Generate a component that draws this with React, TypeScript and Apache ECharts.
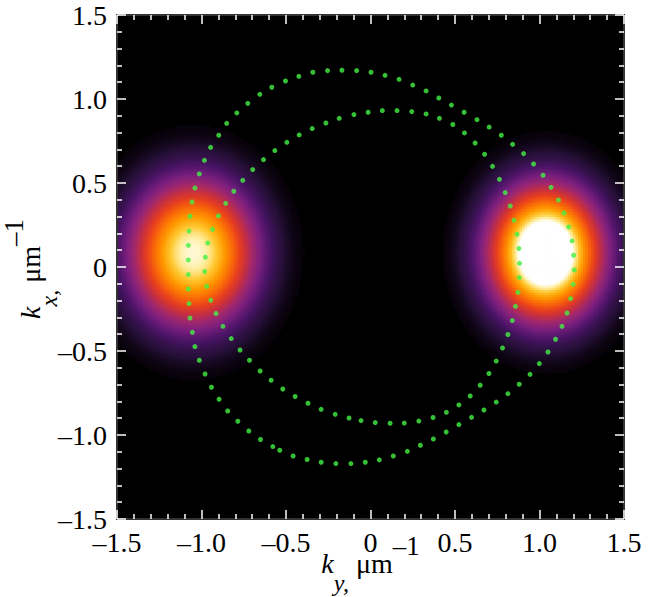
import React, { useEffect, useRef } from "react";
import * as echarts from "echarts";

// ---- axis ticks ----
const xTicks = [-1.5, -1.0, -0.5, 0, 0.5, 1.0, 1.5];
const xTickLabels = ["–1.5", "–1.0", "–0.5", "0", "0.5", "1.0", "1.5"];
const yTicks = [-1.5, -1.0, -0.5, 0, 0.5, 1.0, 1.5];
const yTickLabels = ["–1.5", "–1.0", "–0.5", "0", "0.5", "1.0", "1.5"];

// ---- intensity blobs: left, right ----
const blobKy = [-1.045, 1.039];
const blobKx = [0.085, 0.085];
const blobSigmaKy = [0.265, 0.245];
const blobSigmaKx = [0.31, 0.29];
const blobPower = [2.4, 2.4];
const blobPeak = [0.86, 1.05];

// ---- colour scale ----
const cmapStops = [0, 0.02, 0.06, 0.14, 0.23, 0.32, 0.41, 0.5, 0.6, 0.7, 0.78, 0.84, 0.88];
const cmapColors = ["#000000", "#0c0410", "#261038", "#4a1466", "#7a1f7e", "#a0286e", "#c8303e", "#e8401e", "#fa6a08", "#ff9a00", "#ffc830", "#fff0a8", "#ffffff"];

// ---- dotted contours [ky, kx] ----
const outerContour = [
  [-1.078, 0.042], [-1.078, 0.129], [-1.074, 0.214], [-1.068, 0.302], [-1.056, 0.387], [-1.039, 0.47],
  [-1.013, 0.554], [-0.983, 0.635], [-0.946, 0.712], [-0.898, 0.784], [-0.851, 0.855], [-0.791, 0.917],
  [-0.726, 0.974], [-0.655, 1.028], [-0.584, 1.07], [-0.503, 1.107], [-0.424, 1.135], [-0.341, 1.159],
  [-0.254, 1.169], [-0.169, 1.171], [-0.082, 1.169], [0.003, 1.159], [0.086, 1.141], [0.169, 1.117],
  [0.25, 1.083], [0.329, 1.048], [0.404, 1.006], [0.479, 0.964], [0.554, 0.921], [0.63, 0.877],
  [0.702, 0.833], [0.774, 0.784], [0.841, 0.73], [0.906, 0.675], [0.965, 0.613], [1.021, 0.546],
  [1.068, 0.474], [1.112, 0.399], [1.145, 0.321], [1.173, 0.238], [1.193, 0.155], [1.202, 0.07],
  [1.206, -0.018], [1.199, -0.103], [1.184, -0.188], [1.163, -0.274], [1.133, -0.353], [1.095, -0.43],
  [1.05, -0.506], [0.999, -0.575], [0.944, -0.639], [0.88, -0.698], [0.813, -0.754], [0.744, -0.804],
  [0.671, -0.851], [0.598, -0.895], [0.523, -0.938], [0.448, -0.982], [0.372, -1.024], [0.295, -1.061],
  [0.218, -1.097], [0.135, -1.125], [0.052, -1.148], [-0.031, -1.162], [-0.116, -1.17], [-0.205, -1.17],
  [-0.292, -1.162], [-0.375, -1.146], [-0.458, -1.125], [-0.537, -1.091], [-0.578, -1.069], [-0.651, -1.027],
  [-0.72, -0.976], [-0.785, -0.918], [-0.845, -0.857], [-0.896, -0.787], [-0.941, -0.716], [-0.979, -0.637],
  [-1.013, -0.555], [-1.039, -0.474], [-1.054, -0.389], [-1.068, -0.304], [-1.074, -0.218], [-1.078, -0.131],
  [-1.078, -0.045],
];
const innerContour = [
  [-0.981, -0.027], [-0.977, 0.058], [-0.963, 0.143], [-0.935, 0.224], [-0.9, 0.304], [-0.857, 0.379],
  [-0.809, 0.451], [-0.756, 0.516], [-0.697, 0.58], [-0.633, 0.639], [-0.566, 0.693], [-0.495, 0.742],
  [-0.422, 0.786], [-0.345, 0.824], [-0.264, 0.857], [-0.185, 0.885], [-0.098, 0.907], [-0.014, 0.921],
  [0.07, 0.931], [0.157, 0.931], [0.244, 0.925], [0.329, 0.911], [0.408, 0.885], [0.487, 0.848],
  [0.556, 0.798], [0.619, 0.738], [0.675, 0.671], [0.722, 0.599], [0.763, 0.522], [0.797, 0.443],
  [0.827, 0.363], [0.849, 0.278], [0.867, 0.195], [0.878, 0.11], [0.882, 0.022], [0.88, -0.063],
  [0.873, -0.151], [0.858, -0.234], [0.839, -0.319], [0.813, -0.402], [0.781, -0.482], [0.744, -0.56],
  [0.701, -0.634], [0.649, -0.704], [0.59, -0.768], [0.523, -0.821], [0.449, -0.865], [0.37, -0.896],
  [0.286, -0.917], [0.2, -0.929], [0.116, -0.93], [0.028, -0.926], [-0.056, -0.914], [-0.127, -0.899],
  [-0.209, -0.877], [-0.292, -0.847], [-0.37, -0.811], [-0.446, -0.771], [-0.519, -0.726], [-0.588, -0.674],
  [-0.653, -0.619], [-0.716, -0.555], [-0.772, -0.494], [-0.824, -0.426], [-0.873, -0.353], [-0.914, -0.277],
  [-0.945, -0.198], [-0.969, -0.115],
];

const CELL = 0.015;
const RANGE_MIN = -1.5;
const RANGE_MAX = 1.5;

function hexToRgb(h: string): number[] {
  return [parseInt(h.slice(1, 3), 16), parseInt(h.slice(3, 5), 16), parseInt(h.slice(5, 7), 16)];
}
const cmapRgb = cmapColors.map(hexToRgb);

function colorAt(v: number): string {
  const last = cmapStops.length - 1;
  const t = Math.max(0, v);
  if (t >= cmapStops[last]) {
    const c = cmapRgb[last];
    return `rgb(${c[0]},${c[1]},${c[2]})`;
  }
  let k = 0;
  for (let i = 0; i < last; i++) {
    if (t <= cmapStops[i + 1]) { k = i; break; }
  }
  const f = (t - cmapStops[k]) / (cmapStops[k + 1] - cmapStops[k]);
  const a = cmapRgb[k], b = cmapRgb[k + 1];
  return `rgb(${Math.round(a[0] + (b[0] - a[0]) * f)},${Math.round(a[1] + (b[1] - a[1]) * f)},${Math.round(a[2] + (b[2] - a[2]) * f)})`;
}

function buildHeat(): number[][] {
  const out: number[][] = [];
  const n = Math.round((RANGE_MAX - RANGE_MIN) / CELL);
  for (let i = 0; i < n; i++) {
    const ky = RANGE_MIN + (i + 0.5) * CELL;
    for (let j = 0; j < n; j++) {
      const kx = RANGE_MIN + (j + 0.5) * CELL;
      let v = 0;
      for (let b = 0; b < blobKy.length; b++) {
        const dy = (ky - blobKy[b]) / blobSigmaKy[b];
        const dx = (kx - blobKx[b]) / blobSigmaKx[b];
        const r = Math.sqrt(dy * dy + dx * dx);
        v += blobPeak[b] * Math.exp(-0.5 * Math.pow(r, blobPower[b]));
      }
      if (v > 0.012) out.push([ky, kx, v]);
    }
  }
  return out;
}

const FONT = "Liberation Serif";
const FS = 28;

function tickFmt(ticks: number[], labels: string[]) {
  return (v: number) => {
    const i = ticks.findIndex((t) => Math.abs(t - v) < 1e-6);
    return i >= 0 ? labels[i] : "";
  };
}

const xTitleRich = {
  k: { fontFamily: FONT, fontSize: FS, fontStyle: "italic", lineHeight: 62, color: "#000" },
  sub: { fontFamily: FONT, fontSize: 24, fontStyle: "italic", lineHeight: 24, verticalAlign: "bottom", color: "#000" },
  n: { fontFamily: FONT, fontSize: FS, lineHeight: 62, color: "#000" },
  sup: { fontFamily: FONT, fontSize: 27, lineHeight: 30, verticalAlign: "top", color: "#000" },
};
const yTitleRich = {
  k: { fontFamily: FONT, fontSize: FS, fontStyle: "italic", lineHeight: 60, color: "#000" },
  sub: { fontFamily: FONT, fontSize: 24, fontStyle: "italic", lineHeight: 32, verticalAlign: "bottom", color: "#000" },
  n: { fontFamily: FONT, fontSize: FS, lineHeight: 60, color: "#000" },
  sup: { fontFamily: FONT, fontSize: 27, lineHeight: 58, verticalAlign: "top", color: "#000", padding: [0, 4, 0, 0] },
};

function axisCommon(ticks: number[]) {
  return {
    type: "value",
    min: ticks[0],
    max: ticks[ticks.length - 1],
    interval: 0.5,
    z: 10,
    axisLine: { show: true, onZero: false, lineStyle: { color: "#333", width: 2 } },
    axisTick: { show: true, inside: true, length: 9, lineStyle: { color: "#ffffff", width: 1.5 } },
    minorTick: { show: true, splitNumber: 5, length: 5, lineStyle: { color: "#ffffff", width: 1.5 } },
    splitLine: { show: false },
    minorSplitLine: { show: false },
  };
}

export default function App() {
  const ref = useRef<HTMLDivElement>(null);
  useEffect(() => {
    if (!ref.current) return;
    const chart = echarts.init(ref.current, null, { renderer: "svg", width: 653, height: 597 });
    const heat = buildHeat();
    const option: any = {
      animation: false,
      backgroundColor: "#ffffff",
      grid: { left: 117, top: 15, width: 507, height: 504, show: true, backgroundColor: "#000000", borderWidth: 0, containLabel: false, outerBoundsMode: "none" },
      xAxis: [
        {
          ...axisCommon(xTicks),
          position: "bottom",
          axisLabel: { show: true, margin: 9, fontFamily: FONT, fontSize: FS, color: "#000", formatter: tickFmt(xTicks, xTickLabels) },
          name: "{k|k}{sub|y,}{n| μm}{sup|–1}",
          nameLocation: "middle",
          nameGap: 13.5,
          nameMoveOverlap: false,
          nameTextStyle: { fontFamily: FONT, fontSize: FS, color: "#000", rich: xTitleRich },
        },
        { ...axisCommon(xTicks), position: "top", axisLabel: { show: false } },
      ],
      yAxis: [
        {
          ...axisCommon(yTicks),
          position: "left",
          axisLabel: { show: true, margin: 10, fontFamily: FONT, fontSize: FS, color: "#000", formatter: tickFmt(yTicks, yTickLabels) },
          name: "{k|k}{sub|x,}{n| μm}{sup|–1}",
          nameLocation: "middle",
          nameGap: 56.5,
          nameMoveOverlap: false,
          nameTextStyle: { fontFamily: FONT, fontSize: FS, color: "#000", rich: yTitleRich },
        },
        { ...axisCommon(yTicks), position: "right", axisLabel: { show: false } },
      ],
      series: [
        {
          type: "custom",
          xAxisIndex: 0,
          yAxisIndex: 0,
          clip: true,
          silent: true,
          progressive: 0,
          encode: { x: 0, y: 1 },
          data: heat,
          renderItem: (params: any, api: any) => {
            const c = api.coord([api.value(0), api.value(1)]);
            const s = api.size([CELL, CELL]);
            return {
              type: "rect",
              shape: { x: c[0] - s[0] / 2 - 0.4, y: c[1] - s[1] / 2 - 0.4, width: s[0] + 0.8, height: s[1] + 0.8 },
              style: { fill: colorAt(api.value(2)) },
            };
          },
        },
        {
          type: "scatter",
          xAxisIndex: 0,
          yAxisIndex: 0,
          data: outerContour,
          symbol: "circle",
          symbolSize: 5,
          silent: true,
          itemStyle: { color: "#44f044" },
          z: 3,
        },
        {
          type: "scatter",
          xAxisIndex: 0,
          yAxisIndex: 0,
          data: innerContour,
          symbol: "circle",
          symbolSize: 5,
          silent: true,
          itemStyle: { color: "#44f044" },
          z: 3,
        },
      ],
    };
    chart.setOption(option);
    return () => chart.dispose();
  }, []);
  return <div ref={ref} style={{ position: "absolute", left: 0, top: 0, width: 653, height: 597, background: "#fff" }} />;
}
